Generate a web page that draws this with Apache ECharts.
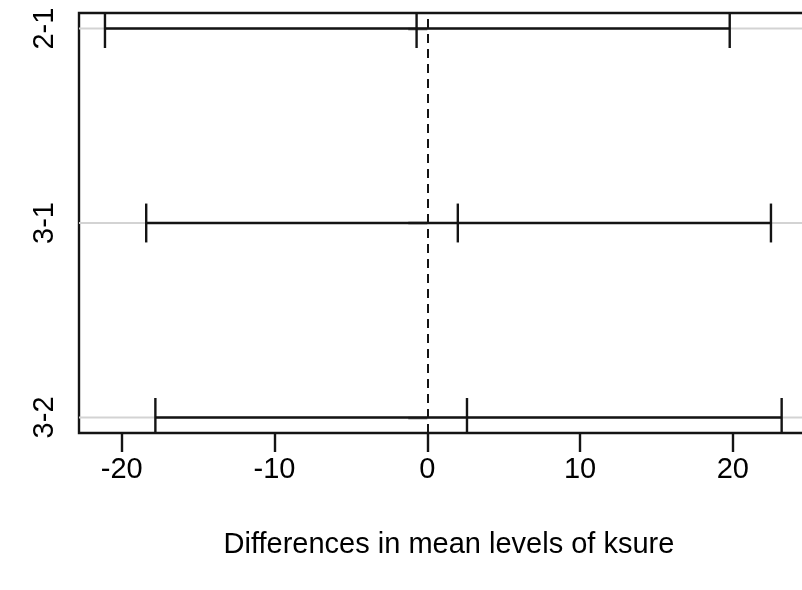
<!DOCTYPE html>
<html>
<head>
<meta charset="utf-8">
<script src="https://cdn.jsdelivr.net/npm/echarts@6/dist/echarts.min.js"></script>
<style>
html,body{margin:0;padding:0;background:#fff;overflow:hidden;width:802px;height:590px;}
#chart{width:840px;height:590px;}
</style>
</head>
<body>
<div id="chart"></div>
<script>
// Tukey HSD comparisons (top to bottom)
const comparisons = ['2-1', '3-1', '3-2'];
const diffs  = [-0.7, 2.0, 2.6];
const lowers = [-21.1, -18.4, -17.8];
const uppers = [19.8, 22.5, 23.2];
const xTicks = [-20, -10, 0, 10, 20];
const xTitle = 'Differences in mean levels of ksure';

const yVals = comparisons.map((c, i) => comparisons.length - i);
const seriesData = comparisons.map((c, i) => [lowers[i], diffs[i], uppers[i], yVals[i]]);

const FONT = "'Liberation Sans', Arial, sans-serif";
const INK = '#141414';
const FS = 29;
const LW = 2.4;
const X_MIN = -22.8, X_MAX = 25.645;

const chart = echarts.init(document.getElementById('chart'), null, {renderer: 'canvas'});
chart.setOption({
  animation: false,
  backgroundColor: '#fff',
  grid: {
    left: 79, top: 13, width: 740, height: 420,
    outerBoundsMode: 'none',
    containLabel: false,
    show: true, borderColor: INK, borderWidth: LW, backgroundColor: 'transparent'
  },
  xAxis: {
    type: 'value', min: X_MIN, max: X_MAX,
    axisLine: {show: false},
    splitLine: {show: false},
    axisTick: {show: true, customValues: xTicks, length: 19, lineStyle: {color: INK, width: LW}},
    axisLabel: {customValues: xTicks, fontSize: FS, color: '#000', fontFamily: FONT, margin: 22},
    name: xTitle, nameLocation: 'middle', nameGap: 97,
    nameTextStyle: {fontSize: FS, color: '#000', fontFamily: FONT}
  },
  yAxis: {
    type: 'value', min: 0.92, max: 3.08,
    axisLine: {show: false},
    splitLine: {show: false},
    axisTick: {show: true, customValues: yVals, length: 19, lineStyle: {color: INK, width: LW}},
    axisLabel: {
      customValues: yVals, rotate: 90, fontSize: FS, color: '#000', fontFamily: FONT, margin: 20,
      formatter: v => comparisons[comparisons.length - Math.round(v)]
    }
  },
  series: [{
    type: 'custom',
    clip: true,
    data: seriesData,
    encode: {x: [0, 1, 2], y: 3},
    renderItem: function (params, api) {
      const yv = api.value(3);
      const cs = params.coordSys;
      const pL = api.coord([api.value(0), yv]);
      const pD = api.coord([api.value(1), yv]);
      const pU = api.coord([api.value(2), yv]);
      const h = Math.abs(api.size([0, 0.1])[1]);
      const ln = (x1, y1, x2, y2, color, w) => ({
        type: 'line', shape: {x1, y1, x2, y2},
        style: {stroke: color, lineWidth: w}
      });
      return {
        type: 'group',
        children: [
          ln(cs.x, pL[1], cs.x + cs.width, pL[1], '#d3d3d3', 2),
          ln(pL[0], pL[1], pU[0], pU[1], INK, LW),
          ln(pL[0], pL[1] - h, pL[0], pL[1] + h, INK, LW),
          ln(pD[0], pD[1] - h, pD[0], pD[1] + h, INK, LW),
          ln(pU[0], pU[1] - h, pU[0], pU[1] + h, INK, LW)
        ]
      };
    },
    markLine: {
      silent: true, symbol: 'none', animation: false,
      label: {show: false},
      lineStyle: {color: INK, width: 2, type: [9, 6]},
      data: [{xAxis: 0}]
    }
  }]
});
</script>
</body>
</html>
